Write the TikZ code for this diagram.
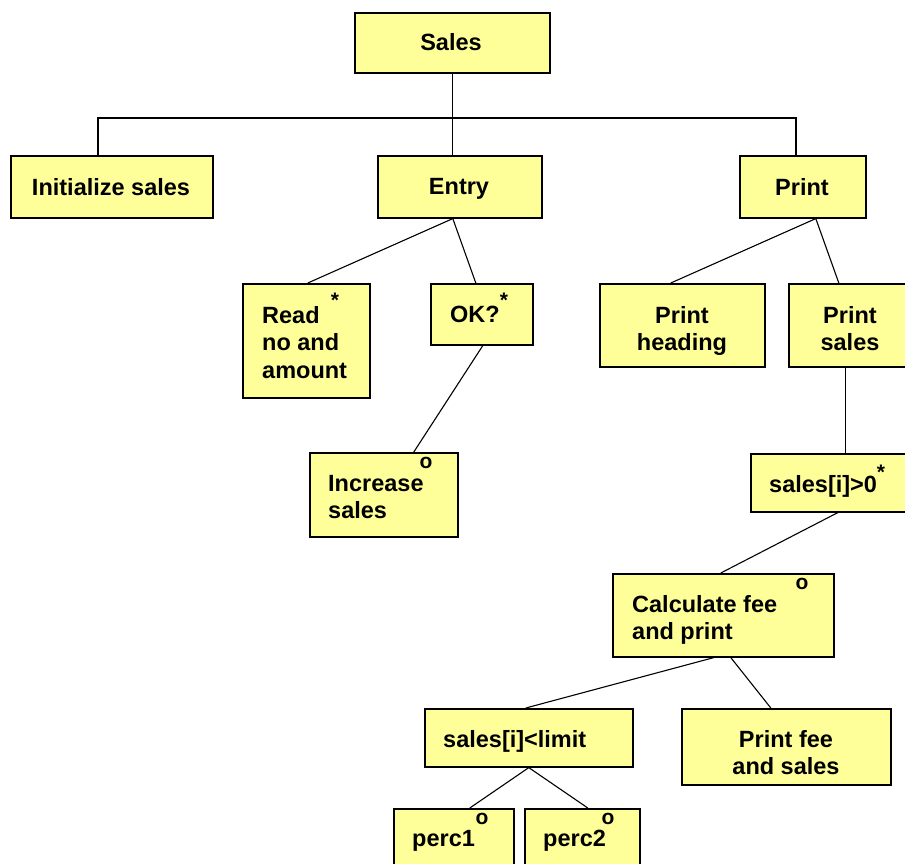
\documentclass[tikz,border=0pt]{standalone}
\usepackage{fontspec}
\setmainfont{Liberation Sans}
\definecolor{boxyellow}{RGB}{255,255,153}
\tikzset{
  bx/.style={draw=black, line width=1.6pt, fill=boxyellow, inner sep=0pt, anchor=north west},
  tl/.style={inner sep=0pt, anchor=north west, align=left, font=\bfseries\fontsize{23.5}{27.5}\selectfont},
  tc/.style={inner sep=0pt, anchor=north, align=center, font=\bfseries\fontsize{23.5}{27.5}\selectfont},
  mk/.style={inner sep=0pt, anchor=base, font=\bfseries\fontsize{21}{21}\selectfont},
  cn/.style={draw=black, line width=1.1pt}
}
\begin{document}
\begin{tikzpicture}[x=1pt,y=-1pt]
\useasboundingbox (0,0) rectangle (905,864);
\clip (0,0) rectangle (905,864);
% connectors
\coordinate (busL) at (98,118);
\coordinate (busR) at (796,118);
% boxes
\node[bx, minimum width=195, minimum height=60] (sales) at (354,12) {};
\node[bx, minimum width=202, minimum height=62] (init) at (10,155) {};
\node[bx, minimum width=164, minimum height=62] (entry) at (377,155) {};
\node[bx, minimum width=126, minimum height=62] (print) at (739,155) {};
\node[bx, minimum width=127, minimum height=114] (read) at (242,283) {};
\node[bx, minimum width=102, minimum height=61] (ok) at (430,283) {};
\node[bx, minimum width=148, minimum height=84] (incr) at (309,452) {};
\node[bx, minimum width=165, minimum height=83] (phead) at (599,283) {};
\node[bx, minimum width=124, minimum height=83] (psales) at (788,283) {};
\node[bx, minimum width=165, minimum height=58] (pos) at (750,453) {};
\node[bx, minimum width=221, minimum height=83] (calc) at (612,573) {};
\node[bx, minimum width=208, minimum height=58] (limit) at (424,708) {};
\node[bx, minimum width=209, minimum height=76] (pfee) at (681,708) {};
\node[bx, minimum width=120, minimum height=72] (perc1) at (393,808) {};
\node[bx, minimum width=115, minimum height=72] (perc2) at (524,808) {};
% connectors
\draw[cn] (sales.south) -- (sales.south |- entry.north);
\draw[cn] (busL |- init.north) -- (busL) -- (busR) -- (busR |- print.north);
\draw[cn] ([xshift=-7]entry.south) -- ([xshift=1.5]read.north);
\draw[cn] ([xshift=-7]entry.south) -- ([xshift=-6]ok.north);
\draw[cn] ([xshift=1]ok.south) -- ([xshift=30]incr.north);
\draw[cn] ([xshift=13]print.south) -- ([xshift=-11.5]phead.north);
\draw[cn] ([xshift=13]print.south) -- ([xshift=-12]psales.north);
\draw[cn] ([xshift=-5]psales.south) -- ([xshift=12.5]pos.north);
\draw[cn] ([xshift=4.5]pos.south) -- ([xshift=-2.5]calc.north);
\draw[cn] ([xshift=-9.5]calc.south) -- ([xshift=-3]limit.north);
\draw[cn] ([xshift=7.5]calc.south) -- ([xshift=-15.5]pfee.north);
\draw[cn] (limit.south) -- ([xshift=16]perc1.north);
\draw[cn] (limit.south) -- ([xshift=5.5]perc2.north);
% texts
\node[tc] (salesT) at (451,33) {Sales};
\node[tc] (initT) at (111,178) {Initialize sales};
\node[tc] (entryT) at (459,178) {Entry};
\node[tc] (printT) at (802,178) {Print};
\node[tl] (readT) at (262,306) {Read\\no and\\amount};
\node[tl] (okT) at (450,306) {OK?};
\node[tl] (incrT) at (328,475) {Increase\\sales};
\node[tc] (pheadT) at (682,306) {Print\\heading};
\node[tc] (psalesT) at (850,306) {Print\\sales};
\node[tl] (posT) at (769,475) {sales[i]>0};
\node[tl] (calcT) at (632,595) {Calculate fee\\and print};
\node[tl] (limitT) at (443,730) {sales[i]<limit};
\node[tc] (pfeeT) at (786,730) {Print fee\\and sales};
\node[tl] (perc1T) at (412,830) {perc1};
\node[tl] (perc2T) at (543,830) {perc2};
% markers
\node[mk] (readM) at (335,307) {*};
\node[mk] (okM) at (504,307) {*};
\node[mk] (incrM) at (426,468.5) {o};
\node[mk] (posM) at (881,479) {*};
\node[mk] (calcM) at (802,589.5) {o};
\node[mk] (perc1M) at (482,824.5) {o};
\node[mk] (perc2M) at (608,824.5) {o};
\end{tikzpicture}
\end{document}
